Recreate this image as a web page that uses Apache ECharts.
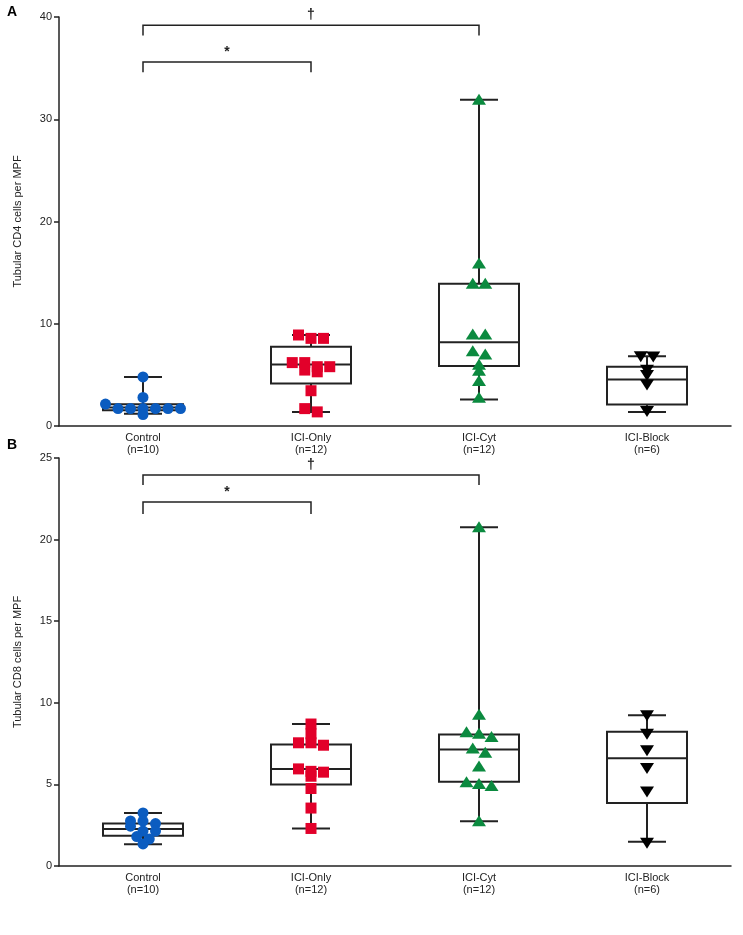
<!DOCTYPE html>
<html>
<head>
<meta charset="utf-8">
<script src="https://cdn.jsdelivr.net/npm/echarts@6/dist/echarts.min.js"></script>
<style>html,body{margin:0;padding:0;background:#fff}#main{width:743px;height:935px}</style>
</head>
<body>
<div id="main"></div>
<script>
// 分组
var groups = ['Control\n(n=10)', 'ICI-Only\n(n=12)', 'ICI-Cyt\n(n=12)', 'ICI-Block\n(n=6)'];
var colors = ['#0b5cc0', '#e2002a', '#0b8a3f', '#000000'];
var symbols = ['circle', 'rect', 'triUp', 'triDown'];

// CD4 (panel A) 各组数据点
var cd4Control = [4.8, 2.79, 2.14, 1.71, 1.71, 1.71, 1.71, 1.71, 1.71, 1.12];
var cd4Only = [8.9, 8.57, 8.57, 6.2, 6.2, 5.8, 5.8, 5.47, 5.3, 3.45, 1.7, 1.38];
var cd4Cyt = [31.9, 15.9, 13.9, 13.9, 8.95, 8.95, 7.3, 7.0, 6.0, 5.4, 4.4, 2.76];
var cd4Block = [6.83, 6.8, 5.5, 5.0, 4.07, 1.46];
// 箱线 [min, q1, median, q3, max]
var cd4Box = [
  [1.2, 1.55, 1.8, 2.13, 4.8],
  [1.38, 4.16, 6.02, 7.76, 8.9],
  [2.6, 5.86, 8.2, 13.9, 31.9],
  [1.36, 2.1, 4.55, 5.8, 6.83]
];

// CD8 (panel B)
var cd8Control = [3.25, 2.76, 2.75, 2.6, 2.44, 2.14, 2.14, 1.8, 1.65, 1.35];
var cd8Only = [8.7, 8.1, 7.55, 7.55, 7.4, 5.95, 5.8, 5.75, 5.5, 4.75, 3.55, 2.3];
var cd8Cyt = [20.75, 9.27, 8.2, 8.1, 7.9, 7.2, 6.94, 6.1, 5.13, 5.03, 4.9, 2.74];
var cd8Block = [9.23, 8.1, 7.1, 6.0, 4.57, 1.42];
var cd8Box = [
  [1.33, 1.86, 2.26, 2.6, 3.25],
  [2.3, 5.0, 5.94, 7.45, 8.7],
  [2.74, 5.17, 7.14, 8.05, 20.75],
  [1.48, 3.86, 6.6, 8.22, 9.23]
];

// 显著性括号 [from, to, y, legBottom, label]
var cd4Brackets = [[0, 2, 39.2, 38.2, '†'], [0, 1, 35.6, 34.6, '*']];
var cd8Brackets = [[0, 2, 23.96, 23.35, '†'], [0, 1, 22.3, 21.57, '*']];

var yTicksA = [0, 40, 10];
var yTicksB = [0, 25, 5];

function spread(vals, g, pxPerUnit) {
  // 简单的蜂群排布：相近的值横向排开
  var s = vals.slice().sort(function (a, b) { return b - a; });
  var out = [], cl = [];
  function flush() {
    for (var i = 0; i < cl.length; i++) out.push([g, cl[i], (i - (cl.length - 1) / 2) * 12.5]);
    cl = [];
  }
  for (var i = 0; i < s.length; i++) {
    if (cl.length && (cl[0] - s[i]) * pxPerUnit > 5) flush();
    cl.push(s[i]);
  }
  flush();
  return out;
}

function boxSeries(idx, box) {
  return {
    type: 'custom', xAxisIndex: idx, yAxisIndex: idx, z: 2,
    data: box.map(function (b, i) { return [i].concat(b); }),
    renderItem: function (params, api) {
      var x = api.value(0);
      var c = function (v) { return api.coord([x, v]); };
      var pMin = c(api.value(1)), pQ1 = c(api.value(2)), pMed = c(api.value(3)),
          pQ3 = c(api.value(4)), pMax = c(api.value(5));
      var cx = pMin[0], hw = 40, cw = 19;
      var st = { stroke: '#222', lineWidth: 2, fill: null };
      return { type: 'group', children: [
        { type: 'line', shape: { x1: cx, y1: pMax[1], x2: cx, y2: pQ3[1] }, style: st },
        { type: 'line', shape: { x1: cx, y1: pQ1[1], x2: cx, y2: pMin[1] }, style: st },
        { type: 'line', shape: { x1: cx - cw, y1: pMax[1], x2: cx + cw, y2: pMax[1] }, style: st },
        { type: 'line', shape: { x1: cx - cw, y1: pMin[1], x2: cx + cw, y2: pMin[1] }, style: st },
        { type: 'rect', shape: { x: cx - hw, y: pQ3[1], width: hw * 2, height: pQ1[1] - pQ3[1] }, style: st },
        { type: 'line', shape: { x1: cx - hw, y1: pMed[1], x2: cx + hw, y2: pMed[1] }, style: st }
      ] };
    }
  };
}

function pointSeries(idx, data) {
  return {
    type: 'custom', xAxisIndex: idx, yAxisIndex: idx, z: 3,
    data: data,
    renderItem: function (params, api) {
      var g = api.value(0);
      var p = api.coord([g, api.value(1)]);
      var x = p[0] + api.value(2), y = p[1];
      var col = colors[g], sym = symbols[g], r = 5.5;
      if (sym === 'circle') return { type: 'circle', shape: { cx: x, cy: y, r: r }, style: { fill: col } };
      if (sym === 'rect') return { type: 'rect', shape: { x: x - r, y: y - r, width: 2 * r, height: 2 * r }, style: { fill: col } };
      if (sym === 'triUp') return { type: 'polygon', shape: { points: [[x, y - 6], [x - 7, y + 5], [x + 7, y + 5]] }, style: { fill: col } };
      return { type: 'polygon', shape: { points: [[x - 7, y - 5], [x + 7, y - 5], [x, y + 6]] }, style: { fill: col } };
    }
  };
}

function bracketSeries(idx, br) {
  return {
    type: 'custom', xAxisIndex: idx, yAxisIndex: idx, z: 4,
    data: br,
    renderItem: function (params, api) {
      var d = br[params.dataIndex];
      var a = api.coord([d[0], d[2]]), b = api.coord([d[1], d[2]]);
      var lb = api.coord([d[0], d[3]]);
      var st = { stroke: '#222', lineWidth: 1.5, fill: null };
      return { type: 'group', children: [
        { type: 'polyline', shape: { points: [[a[0], lb[1]], [a[0], a[1]], [b[0], b[1]], [b[0], lb[1]]] }, style: st },
        { type: 'text', style: { text: d[4], x: (a[0] + b[0]) / 2, y: a[1] - 3, align: 'center', verticalAlign: 'bottom',
          font: 'bold 14px Arial, Liberation Sans', fill: '#222' } }
      ] };
    }
  };
}

function xAx(idx) {
  return {
    type: 'category', gridIndex: idx, data: groups,
    axisLine: { lineStyle: { color: '#222', width: 1.5 } },
    axisTick: { alignWithLabel: true, length: 5, lineStyle: { color: '#222', width: 1.5 } },
    axisLabel: { color: '#222', fontSize: 11, fontFamily: 'Liberation Sans, Arial', lineHeight: 12, margin: 6 },
    splitLine: { show: false }
  };
}
function yAx(idx, t, name) {
  return {
    type: 'value', gridIndex: idx, min: t[0], max: t[1], interval: t[2],
    name: name, nameLocation: 'middle', nameGap: 36, nameRotate: 90,
    nameTextStyle: { color: '#222', fontSize: 11, fontFamily: 'Liberation Sans, Arial' },
    axisLine: { show: true, lineStyle: { color: '#222', width: 1.5 } },
    axisTick: { show: true, length: 5, lineStyle: { color: '#222', width: 1.5 } },
    axisLabel: { color: '#222', fontSize: 11, fontFamily: 'Liberation Sans, Arial', margin: 7 },
    splitLine: { show: false }
  };
}

var myChart = echarts.init(document.getElementById('main'));
var cd4All = [cd4Control, cd4Only, cd4Cyt, cd4Block];
var cd8All = [cd8Control, cd8Only, cd8Cyt, cd8Block];
var ptsA = [], ptsB = [];
cd4All.forEach(function (v, g) { ptsA = ptsA.concat(spread(v, g, 10.2)); });
cd8All.forEach(function (v, g) { ptsB = ptsB.concat(spread(v, g, 16.3)); });

var option = {
  animation: false,
  title: [
    { text: 'A', left: 2, top: 0, textStyle: { fontSize: 14, fontWeight: 'bold', fontFamily: 'Liberation Sans, Arial', color: '#000' } },
    { text: 'B', left: 2, top: 433, textStyle: { fontSize: 14, fontWeight: 'bold', fontFamily: 'Liberation Sans, Arial', color: '#000' } }
  ],
  grid: [
    { left: 59, width: 672, top: 17, height: 409 },
    { left: 59, width: 672, top: 458, height: 408 }
  ],
  xAxis: [xAx(0), xAx(1)],
  yAxis: [yAx(0, yTicksA, 'Tubular CD4 cells per MPF'), yAx(1, yTicksB, 'Tubular CD8 cells per MPF')],
  series: [
    boxSeries(0, cd4Box), pointSeries(0, ptsA), bracketSeries(0, cd4Brackets),
    boxSeries(1, cd8Box), pointSeries(1, ptsB), bracketSeries(1, cd8Brackets)
  ]
};
myChart.setOption(option);
</script>
</body>
</html>
